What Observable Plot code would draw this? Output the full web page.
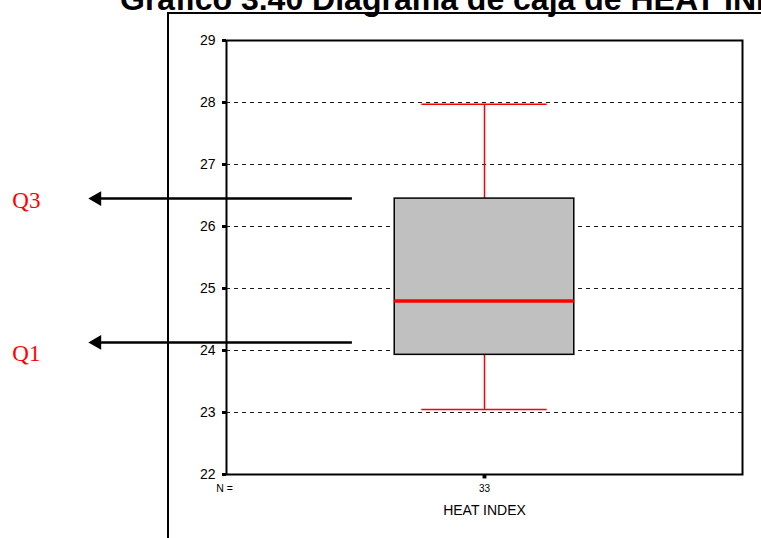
<!DOCTYPE html>
<html><head><meta charset="utf-8">
<script src="https://cdn.jsdelivr.net/npm/d3@7"></script>
<script src="https://cdn.jsdelivr.net/npm/@observablehq/plot@0.6"></script>
<style>
html,body{margin:0;padding:0;background:#fff;}
#wrap{position:relative;width:761px;height:538px;overflow:hidden;}
#chart{position:absolute;left:0;top:0;}
#title{position:absolute;left:120px;top:-17.5px;font:bold 32px "Liberation Sans",Arial,sans-serif;line-height:32px;white-space:nowrap;color:#000;}
#outer{position:absolute;left:167px;top:12px;width:700px;height:600px;border-left:2px solid #000;border-top:2px solid #000;pointer-events:none;}
</style></head><body>
<div id="wrap"><div id="chart"></div><div id="outer"></div><div id="title">Gráfico 3.40 Diagrama de caja de HEAT INDEX</div></div>
<script>
// ---- data ----
const categories = ["HEAT INDEX"];
const counts = [33];
const lowerWhisker = [23.05];
const q1 = [23.93];
const medians = [24.80];
const q3 = [26.45];
const upperWhisker = [27.97];
const yTicks = [22, 23, 24, 25, 26, 27, 28, 29];
const annotationLabels = ["Q3", "Q1"];
const annotationValues = [26.45, 24.13];

// ---- layout (in x-scale units, domain [0,1]) ----
const boxHalf = 0.174, capHalf = 0.1215;
const arrowStart = 0.244, headCenter = -0.2512, labelX = -0.415;

const rows = categories.map((c, i) => ({
  category: c, n: counts[i], lo: lowerWhisker[i], q1: q1[i], med: medians[i],
  q3: q3[i], hi: upperWhisker[i], pos: 0.5
}));
const ann = annotationLabels.map((l, i) => ({label: l, value: annotationValues[i]}));
const font = "Liberation Sans, Arial, sans-serif";

const chart = Plot.plot({
  width: 761, height: 538,
  marginLeft: 226, marginRight: 19, marginTop: 40, marginBottom: 64,
  style: {fontFamily: font, background: "transparent", overflow: "visible"},
  x: {domain: [0, 1], axis: null},
  y: {domain: [22, 29], axis: null},
  marks: [
    Plot.gridY(yTicks.slice(1, -1), {stroke: "#000", strokeOpacity: 0.9, strokeDasharray: "4,4"}),
    Plot.ruleX(rows, {x: "pos", y1: "lo", y2: "q1", stroke: "red", strokeWidth: 1.5}),
    Plot.ruleX(rows, {x: "pos", y1: "q3", y2: "hi", stroke: "red", strokeWidth: 1.5}),
    Plot.ruleY(rows, {y: "lo", x1: d => d.pos - capHalf, x2: d => d.pos + capHalf, stroke: "red", strokeWidth: 1.5}),
    Plot.ruleY(rows, {y: "hi", x1: d => d.pos - capHalf, x2: d => d.pos + capHalf, stroke: "red", strokeWidth: 1.5}),
    Plot.rect(rows, {x1: d => d.pos - boxHalf, x2: d => d.pos + boxHalf, y1: "q1", y2: "q3", fill: "#c0c0c0", stroke: "#000", strokeWidth: 1.5}),
    Plot.ruleY(rows, {y: "med", x1: d => d.pos - boxHalf, x2: d => d.pos + boxHalf, stroke: "red", strokeWidth: 3.5}),
    Plot.frame({stroke: "#000", strokeWidth: 2}),
    Plot.axisY(yTicks, {tickSize: 4, tickPadding: 7, fontSize: 14, strokeWidth: 3, label: null, tickFormat: d3.format("d")}),
    Plot.dot(rows, {x: "pos", y: () => 22, symbol: "square", r: 2.2, fill: "#000", dy: 2}),
    Plot.text(["N ="], {x: () => 0, y: () => 22, dx: -2, dy: 14, fontSize: 10.5, fill: "#000"}),
    Plot.text(rows, {x: "pos", y: () => 22, text: d => String(d.n), dy: 14, fontSize: 10, fill: "#000"}),
    Plot.text(rows, {x: "pos", y: () => 22, text: "category", dy: 36, fontSize: 14, fill: "#000", style: "letter-spacing:1px"}),
    Plot.ruleY(ann, {y: "value", x1: () => arrowStart, x2: () => headCenter, stroke: "#000", strokeWidth: 2.5}),
    Plot.dot(ann, {x: () => headCenter, y: "value", symbol: "triangle", rotate: -90, r: 5.5, fill: "#000", stroke: null}),
    Plot.text(ann, {filter: d => d.label === "Q3", x: () => labelX, y: "value", text: "label", textAnchor: "start", dy: 2, fill: "red", fontSize: 23, fontFamily: "Liberation Serif, Times New Roman, serif"}),
    Plot.text(ann, {filter: d => d.label === "Q1", x: () => labelX, y: "value", text: "label", textAnchor: "start", dy: 11, fill: "red", fontSize: 23, fontFamily: "Liberation Serif, Times New Roman, serif"})
  ]
});
document.getElementById("chart").appendChild(chart);
</script>
</body></html>
